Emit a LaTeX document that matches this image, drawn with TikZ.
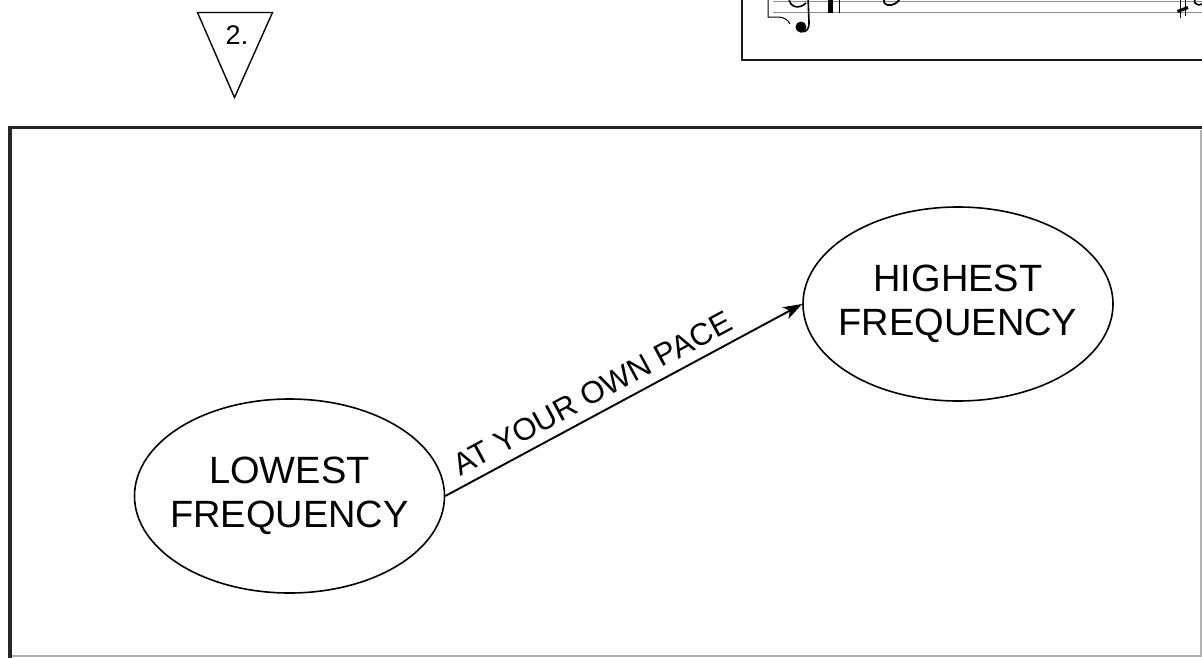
\documentclass[tikz,border=0pt]{standalone}
\usepackage{fontspec}
\setmainfont{Liberation Sans}
\usetikzlibrary{shapes.geometric,arrows.meta}
\tikzset{
  freq/.style={ellipse, draw, line width=1.6pt, minimum width=310pt, minimum height=194pt, inner sep=0pt},
  freqtext/.style={align=center, font=\fontsize{38}{44.5}\selectfont, inner sep=0pt},
  conn/.style={line width=1.9pt, -{Stealth[length=19pt,width=13pt,inset=5pt]}},
  conntext/.style={font=\fontsize{31}{34}\selectfont, inner sep=0pt, sloped, above=9pt},
  staff/.style={line width=0.9pt, black!45},
  frameline/.style={line width=3.6pt, black!85},
}
\begin{document}
\begin{tikzpicture}[x=1pt, y=-1pt]
\useasboundingbox (0,0) rectangle (1202,657);
\fill[white] (0,0) rectangle (1202,657);
% top-right music box
\draw[staff] (773,1.5) -- (1205,1.5);
\draw[staff] (773,12.5) -- (1205,12.5);
\draw[line width=1pt] (768,-5) -- (768,17) -- (778,17) .. controls (784,17) and (788,20) .. (790,24);
\draw[line width=1.6pt] (789,-2) .. controls (789,7) and (799,10) .. (806,3);
\draw[line width=1.6pt] (808,-3) -- (809,22) .. controls (810,33) and (800,34) .. (797,29);
\fill (801,27) circle (5.5);
\fill (827.5,-1) rectangle (832.5,12.5);
\draw[line width=0.9pt] (839,-1) -- (839,12.5);
\draw[line width=1.8pt, rotate around={25:(892,-1)}] (892,-1) ellipse (8.5 and 5.5);
\draw[line width=1pt] (1180.5,-2) -- (1180.5,18);
\draw[line width=1pt] (1185,-3) -- (1185,16);
\draw[line width=3pt] (1177.5,11.5) -- (1188,7.5);
\draw[line width=1.6pt, rotate around={25:(1200,0)}] (1200,0) ellipse (6 and 4.5);
\draw[line width=2.6pt, black!90] (742,-5) -- (742,60) -- (1210,60);
% triangle marker
\draw[line width=1.4pt] (197.5,12.5) -- (272.5,12.5) -- (234.5,97.5) -- cycle;
\node[font=\fontsize{27}{30}\selectfont, inner sep=0pt] (num) at (237,35) {2.};
% big frame
\draw[frameline] (10,700) -- (10,127.5) -- (1215,127.5);
\draw[line width=1.2pt, black!30] (12,656) -- (1201,656) -- (1201,130);
% diagram
\node[freq] (low) at (289.5,496) {};
\node[freqtext] at (low.center) {LOWEST\\FREQUENCY};
\node[freq] (high) at (958,304) {};
\node[freqtext] at (high.center) {HIGHEST\\FREQUENCY};
\draw[conn] (low.east) -- node[conntext, pos=0.44] {AT YOUR OWN PACE} (high.west);
\end{tikzpicture}
\end{document}
